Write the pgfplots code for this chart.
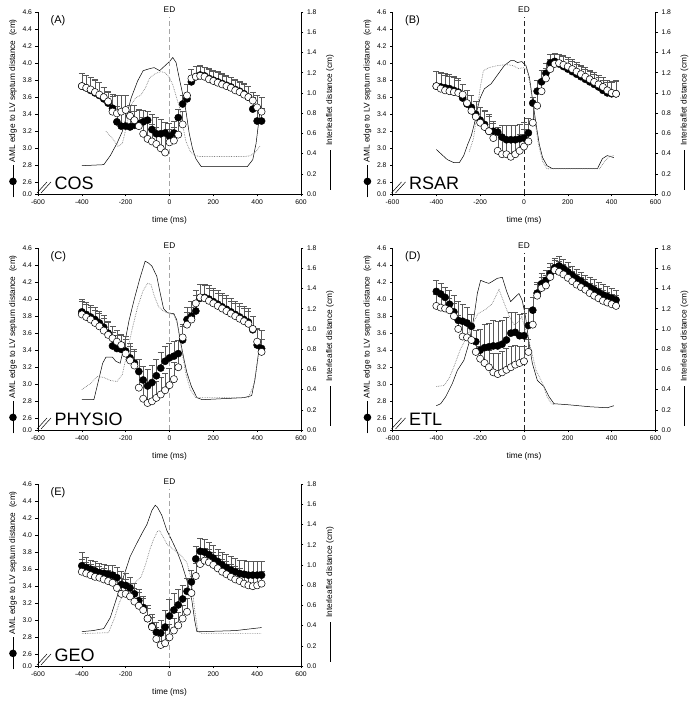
\documentclass[border=0pt]{standalone}
\usepackage{fontspec}
\setmainfont{Liberation Sans}
\usepackage{pgfplots}
\usepackage{pgfplotstable}
\pgfplotsset{compat=1.18}

% circles: t, filled (f) with +SD, open (o) with +SD
\pgfplotstableread{
t f ef o eo
-400 3.73 0.15 3.73 0.15
-380 3.71 0.15 3.71 0.15
-360 3.68 0.16 3.69 0.15
-340 3.65 0.15 3.66 0.15
-320 3.62 0.15 3.63 0.15
-300 3.58 0.14 3.60 0.12
-280 3.53 0.13 3.55 0.12
-260 3.47 0.16 3.43 0.18
-240 3.31 0.18 3.41 0.21
-220 3.26 0.18 3.43 0.19
-200 3.26 0.17 3.45 0.17
-180 3.25 0.18 3.38 0.12
-160 3.27 0.16 3.33 0.17
-140 3.29 0.16 3.26 0.20
-120 3.31 0.14 3.17 0.20
-100 3.33 0.10 3.11 0.20
-80 3.22 0.18 3.08 0.20
-60 3.17 0.20 3.05 0.20
-40 3.17 0.17 3.00 0.20
-20 3.18 0.13 2.95 0.20
0 3.14 0.15 3.07 0.15
20 3.18 0.14 3.09 0.16
40 3.36 0.10 3.16 0.18
60 3.52 0.10 3.28 0.15
80 3.58 0.17 3.62 0.13
100 3.78 0.15 3.82 0.11
120 3.84 0.12 3.84 0.12
140 3.86 0.11 3.85 0.11
160 3.85 0.10 3.84 0.11
180 3.82 0.12 3.81 0.12
200 3.80 0.12 3.79 0.12
220 3.78 0.12 3.77 0.12
240 3.76 0.12 3.75 0.12
260 3.74 0.12 3.73 0.12
280 3.72 0.12 3.71 0.12
300 3.69 0.12 3.68 0.12
320 3.67 0.12 3.66 0.12
340 3.64 0.12 3.63 0.12
360 3.60 0.13 3.60 0.13
380 3.46 0.14 3.56 0.10
400 3.32 0.15 3.48 0.14
420 3.32 0.15 3.43 0.17
}\cosdata
\pgfplotstableread{
t r
-400 0.28
-300 0.29
-270 0.38
-240 0.50
-215 0.62
-195 0.78
-175 0.95
-145 1.12
-120 1.22
-90 1.24
-70 1.25
-45 1.22
-25 1.26
0 1.31
15 1.35
30 1.30
45 1.14
60 0.99
75 0.82
90 0.60
105 0.45
120 0.35
145 0.27
355 0.27
380 0.34
395 0.50
412 0.80
}\cossolid
\pgfplotstableread{
t r
-290 0.62
-260 0.55
-235 0.47
-215 0.50
-195 0.68
-175 0.88
-155 0.95
-130 0.98
-110 1.05
-90 1.15
-65 1.19
-40 1.21
-20 1.20
0 1.15
15 1.08
30 0.97
45 0.86
60 0.68
75 0.52
95 0.42
115 0.38
140 0.37
345 0.37
370 0.38
395 0.42
415 0.48
}\cosdot

\pgfplotstableread{
t f ef o eo
-400 3.73 0.17 3.73 0.17
-380 3.72 0.17 3.70 0.18
-360 3.71 0.17 3.68 0.18
-340 3.70 0.17 3.67 0.18
-320 3.68 0.17 3.66 0.17
-300 3.66 0.16 3.65 0.15
-280 3.59 0.16 3.63 0.12
-260 3.52 0.16 3.53 0.15
-240 3.48 0.14 3.44 0.18
-220 3.40 0.15 3.37 0.18
-200 3.33 0.15 3.30 0.18
-180 3.28 0.17 3.25 0.18
-160 3.20 0.20 3.20 0.18
-140 3.20 0.12 3.12 0.18
-120 3.19 0.06 2.97 0.20
-100 3.13 0.14 2.93 0.20
-80 3.10 0.17 2.93 0.20
-60 3.10 0.17 2.90 0.20
-40 3.10 0.17 2.93 0.20
-20 3.11 0.17 2.97 0.20
0 3.12 0.19 3.02 0.20
20 3.18 0.17 3.08 0.20
40 3.53 0.07 3.30 0.20
60 3.67 0.13 3.50 0.16
80 3.78 0.14 3.67 0.14
100 3.88 0.12 3.82 0.12
120 4.00 0.10 3.93 0.12
140 4.02 0.10 3.99 0.12
160 3.99 0.12 4.00 0.11
180 3.96 0.12 3.98 0.11
200 3.93 0.12 3.96 0.11
220 3.90 0.12 3.93 0.11
240 3.87 0.12 3.90 0.11
260 3.84 0.12 3.87 0.11
280 3.81 0.12 3.84 0.11
300 3.78 0.12 3.81 0.11
320 3.75 0.12 3.78 0.11
340 3.72 0.12 3.75 0.11
360 3.68 0.12 3.72 0.12
380 3.65 0.12 3.68 0.12
400 3.64 0.14 3.65 0.14
420 3.64 0.15 3.64 0.16
}\rsardata
\pgfplotstableread{
t r
-400 0.44
-380 0.40
-350 0.34
-320 0.31
-295 0.31
-275 0.38
-257 0.49
-240 0.58
-227 0.69
-212 0.85
-200 0.95
-181 1.04
-150 1.09
-120 1.18
-90 1.27
-60 1.32
-45 1.32
-30 1.30
-10 1.31
9 1.27
25 1.15
40 0.92
55 0.69
70 0.49
85 0.36
105 0.28
130 0.25
335 0.25
358 0.35
380 0.38
410 0.36
}\rsarsolid
\pgfplotstableread{
t r
-250 0.42
-230 0.55
-215 0.80
-200 1.05
-185 1.22
-160 1.25
-120 1.27
-80 1.28
-50 1.27
-25 1.24
0 1.25
15 1.22
30 1.05
48 0.75
65 0.50
85 0.32
105 0.25
345 0.25
370 0.33
390 0.37
410 0.38
}\rsardot

\pgfplotstableread{
t f ef o eo
-400 3.85 0.15 3.82 0.15
-380 3.82 0.14 3.79 0.15
-360 3.79 0.14 3.76 0.15
-340 3.76 0.14 3.72 0.15
-320 3.72 0.14 3.68 0.15
-300 3.67 0.14 3.63 0.15
-280 3.60 0.14 3.58 0.15
-260 3.45 0.16 3.54 0.14
-240 3.42 0.16 3.50 0.13
-220 3.41 0.17 3.46 0.13
-200 3.39 0.17 3.36 0.17
-180 3.31 0.17 3.28 0.17
-160 3.25 0.16 3.22 0.17
-140 3.15 0.15 2.96 0.20
-120 3.05 0.16 2.83 0.20
-100 2.98 0.20 2.78 0.20
-80 3.02 0.20 2.80 0.20
-60 3.10 0.20 2.84 0.20
-40 3.19 0.19 2.88 0.20
-20 3.27 0.18 2.93 0.20
0 3.31 0.17 2.99 0.20
20 3.33 0.17 3.06 0.20
40 3.36 0.16 3.20 0.18
60 3.52 0.16 3.55 0.15
80 3.76 0.14 3.70 0.15
100 3.80 0.17 3.76 0.15
120 3.86 0.18 3.95 0.15
140 4.01 0.17 4.02 0.15
160 4.02 0.16 4.01 0.15
180 4.00 0.16 3.98 0.15
200 3.97 0.16 3.95 0.15
220 3.94 0.16 3.92 0.15
240 3.91 0.16 3.89 0.15
260 3.88 0.16 3.86 0.15
280 3.85 0.16 3.83 0.15
300 3.82 0.16 3.80 0.15
320 3.79 0.16 3.77 0.15
340 3.76 0.16 3.74 0.15
360 3.73 0.16 3.71 0.15
380 3.64 0.16 3.65 0.15
400 3.46 0.20 3.50 0.15
420 3.42 0.22 3.38 0.15
}\physdata
\pgfplotstableread{
t r
-400 0.30
-345 0.30
-325 0.48
-305 0.66
-290 0.72
-260 0.72
-245 0.68
-225 0.66
-205 0.85
-185 1.08
-160 1.30
-135 1.50
-111 1.67
-95 1.65
-80 1.62
-58 1.52
-45 1.38
-27 1.20
-10 1.16
20 1.15
33 1.09
49 0.89
64 0.72
79 0.57
100 0.43
125 0.32
150 0.30
340 0.32
375 0.34
390 0.50
406 0.76
}\physsolid
\pgfplotstableread{
t r
-400 0.40
-360 0.46
-330 0.53
-300 0.52
-270 0.49
-240 0.48
-215 0.55
-195 0.75
-170 1.00
-145 1.22
-120 1.38
-100 1.45
-85 1.44
-70 1.33
-50 1.22
-30 1.18
-10 1.16
20 1.14
35 1.06
55 0.80
75 0.55
95 0.40
120 0.32
360 0.32
385 0.45
405 0.72
}\physdot

\pgfplotstableread{
t f ef o eo
-400 4.09 0.13 3.92 0.14
-380 4.06 0.13 3.90 0.14
-360 4.02 0.12 3.89 0.14
-340 3.94 0.16 3.87 0.14
-320 3.85 0.20 3.80 0.15
-300 3.75 0.22 3.65 0.16
-280 3.74 0.20 3.56 0.18
-260 3.72 0.18 3.55 0.17
-240 3.68 0.14 3.52 0.15
-220 3.50 0.14 3.38 0.15
-200 3.40 0.25 3.30 0.15
-180 3.43 0.27 3.25 0.18
-160 3.44 0.28 3.20 0.20
-140 3.45 0.30 3.14 0.22
-120 3.45 0.29 3.12 0.25
-100 3.47 0.28 3.14 0.25
-80 3.52 0.27 3.17 0.25
-60 3.60 0.25 3.20 0.25
-40 3.61 0.24 3.23 0.23
-20 3.57 0.25 3.25 0.20
0 3.57 0.26 3.27 0.18
20 3.69 0.20 3.38 0.15
40 3.87 0.15 3.70 0.15
60 4.07 0.13 4.04 0.14
80 4.18 0.12 4.13 0.13
100 4.22 0.12 4.16 0.12
120 4.30 0.12 4.26 0.12
140 4.37 0.11 4.34 0.12
160 4.39 0.11 4.32 0.12
180 4.36 0.11 4.29 0.12
200 4.32 0.11 4.25 0.12
220 4.28 0.11 4.21 0.12
240 4.24 0.11 4.17 0.12
260 4.21 0.11 4.14 0.12
280 4.17 0.11 4.11 0.12
300 4.14 0.12 4.07 0.12
320 4.11 0.12 4.04 0.12
340 4.08 0.12 4.01 0.12
360 4.05 0.12 3.98 0.12
380 4.03 0.12 3.96 0.12
400 4.01 0.12 3.94 0.12
420 3.99 0.12 3.92 0.12
}\etldata
\pgfplotstableread{
t r
-400 0.24
-380 0.26
-357 0.33
-327 0.46
-304 0.59
-274 0.69
-251 0.86
-228 1.12
-213 1.35
-198 1.48
-175 1.46
-160 1.45
-144 1.47
-122 1.50
-99 1.51
-79 1.37
-61 1.27
-38 1.32
-23 1.35
-8 1.28
7 1.12
23 0.86
38 0.66
61 0.49
91 0.43
114 0.33
137 0.26
200 0.25
300 0.23
380 0.22
410 0.24
}\etlsolid
\pgfplotstableread{
t r
-400 0.43
-364 0.44
-340 0.52
-319 0.63
-290 0.80
-260 0.92
-240 1.02
-210 1.15
-170 1.20
-145 1.25
-114 1.39
-95 1.28
-66 1.12
-45 1.04
-25 1.07
-10 1.12
5 1.00
25 0.86
55 0.59
85 0.46
105 0.33
125 0.26
140 0.25
}\etldot

\pgfplotstableread{
t f ef o eo
-400 3.64 0.16 3.57 0.15
-380 3.62 0.12 3.55 0.13
-360 3.60 0.11 3.53 0.13
-340 3.58 0.11 3.51 0.13
-320 3.56 0.11 3.50 0.13
-300 3.55 0.11 3.48 0.13
-280 3.54 0.11 3.46 0.13
-260 3.53 0.12 3.44 0.13
-240 3.50 0.12 3.38 0.15
-220 3.42 0.16 3.31 0.18
-200 3.41 0.14 3.31 0.17
-180 3.38 0.12 3.28 0.15
-160 3.31 0.13 3.22 0.16
-140 3.23 0.13 3.17 0.16
-120 3.15 0.13 3.12 0.14
-100 3.02 0.16 3.02 0.12
-80 2.93 0.14 2.92 0.12
-60 2.86 0.12 2.78 0.14
-40 2.85 0.15 2.71 0.15
-20 2.92 0.20 2.73 0.15
0 3.05 0.20 2.80 0.15
20 3.12 0.20 2.88 0.15
40 3.18 0.18 2.94 0.16
60 3.25 0.16 3.02 0.16
80 3.34 0.15 3.10 0.16
100 3.45 0.14 3.32 0.15
120 3.72 0.15 3.52 0.15
140 3.81 0.15 3.66 0.15
160 3.80 0.15 3.70 0.15
180 3.77 0.15 3.68 0.15
200 3.73 0.15 3.65 0.15
220 3.69 0.15 3.61 0.15
240 3.65 0.15 3.57 0.15
260 3.62 0.15 3.54 0.15
280 3.59 0.16 3.51 0.15
300 3.57 0.16 3.48 0.15
320 3.55 0.16 3.46 0.15
340 3.54 0.16 3.43 0.15
360 3.53 0.16 3.41 0.15
380 3.53 0.16 3.40 0.15
400 3.53 0.16 3.41 0.15
420 3.53 0.16 3.43 0.15
}\geodata
\pgfplotstableread{
t r
-400 0.34
-350 0.35
-300 0.37
-270 0.48
-240 0.68
-210 0.88
-180 1.08
-150 1.21
-126 1.31
-103 1.40
-80 1.54
-65 1.59
-55 1.57
-35 1.49
-12 1.34
11 1.24
33 1.14
56 1.01
79 0.85
102 0.65
115 0.45
125 0.34
150 0.34
300 0.35
420 0.38
}\geosolid
\pgfplotstableread{
t r
-400 0.32
-278 0.33
-250 0.48
-230 0.62
-210 0.72
-185 0.78
-160 0.82
-130 0.88
-110 1.00
-90 1.15
-73 1.25
-55 1.33
-45 1.34
-30 1.28
-10 1.20
20 1.15
50 1.10
80 1.02
100 0.85
115 0.55
130 0.34
150 0.32
420 0.32
}\geodot

\pgfplotsset{
  panelbase/.style={
    scale only axis, width=263pt, height=182pt, anchor=south west,
    xmin=-600, xmax=600,
    tick align=outside, major tick length=2.5pt,
    tick style={black, line width=0.4pt},
    axis line style={line width=0.5pt},
    tick label style={font=\fontsize{6.8}{8}\selectfont},
    label style={font=\fontsize{8.3}{10}\selectfont},
    /pgf/number format/assume math mode=true,
  },
  rightax/.style={
    panelbase, axis x line=none, axis y line*=right,
    ymin=0, ymax=1.8, ytick={0,0.2,...,1.8},
    yticklabel style={/pgf/number format/.cd, fixed, fixed zerofill, precision=1},
    ylabel={\tikz[baseline=-0.5ex]\draw[line width=0.6pt] (0,0)--(40pt,0);\hspace{4pt}Interleaflet distance (cm)},
    ylabel style={at={(rel axis cs:1.11,0.393)}, anchor=center},
  },
  leftax/.style={
    panelbase, axis x line*=bottom, axis y line*=left, clip=false,
    ymin=2.463, ymax=4.6, ytick={2.6,2.8,...,4.6},
    extra y ticks={2.463}, extra y tick labels={0.0}, extra y tick style={grid=none},
    xtick={-600,-400,...,600},
    yticklabel style={/pgf/number format/.cd, fixed, fixed zerofill, precision=1},
    xlabel={time (ms)},
    xlabel style={at={(rel axis cs:0.5,-0.143)}, anchor=center},
    ylabel={\tikz[baseline=-0.5ex]{\draw[line width=0.6pt] (0,0)--(32pt,0); \fill (16pt,0) circle (3.8pt);}\hspace{3pt}AML edge to LV septum distance\ \ (cm)},
    ylabel style={at={(rel axis cs:-0.095,0.47)}, anchor=center},
  },
  errbars/.style={draw=none, mark=none, forget plot,
    error bars/.cd, y dir=plus, y explicit, error mark=-,
    error bar style={draw=black!65, line width=0.4pt},
    error mark options={rotate=90, draw=black!65, line width=0.4pt, mark size=3pt}},
}

% #1,#2 position, #3 circles, #4 solid, #5 dotted, #6 letter, #7 group, #8 colour of ED line
\newcommand{\panel}[8]{%
  \begin{axis}[rightax, at={(#1,#2)}]
    \addplot[black, line width=0.5pt] table {#4};
    \addplot[gray, densely dotted, line width=0.7pt] table {#5};
  \end{axis}
  \begin{axis}[leftax, at={(#1,#2)}]
    \draw[#8, line width=0.5pt, dash pattern=on 5pt off 3pt] (rel axis cs:0.5,0) -- (rel axis cs:0.5,0.972);
    \node[font=\fontsize{8.3}{10}\selectfont] at ([yshift=2pt]rel axis cs:0.5,1) {ED};
    \addplot[errbars] table[x=t, y=f, y error=ef] {#3};
    \addplot[errbars] table[x=t, y=o, y error=eo] {#3};
    \addplot[only marks, mark=*, mark size=3.6pt, mark options={draw=black, fill=black}] table[x=t, y=f] {#3};
    \addplot[only marks, mark=*, mark size=3.6pt, mark options={draw=black, fill=white, line width=0.5pt}] table[x=t, y=o] {#3};
    \node[anchor=north west, font=\fontsize{11}{13}\selectfont] at (rel axis cs:0.035,1) {(#6)};
    \node[anchor=base west, font=\fontsize{18}{20}\selectfont] at (rel axis cs:0.05,0.027) {#7};
    \draw[line width=0.5pt] ([xshift=-1pt, yshift=1pt]rel axis cs:0,0) -- ++(10pt,11pt);
    \draw[line width=0.5pt] ([xshift=3pt, yshift=1pt]rel axis cs:0,0) -- ++(10pt,11pt);
  \end{axis}}

\begin{document}
\begin{tikzpicture}
\useasboundingbox (0,0) rectangle (690pt,702pt);
\panel{38pt}{508pt}{\cosdata}{\cossolid}{\cosdot}{A}{COS}{gray!70}
\panel{392.5pt}{508pt}{\rsardata}{\rsarsolid}{\rsardot}{B}{RSAR}{black!85}
\panel{38pt}{272pt}{\physdata}{\physsolid}{\physdot}{C}{PHYSIO}{gray!70}
\panel{392.5pt}{272pt}{\etldata}{\etlsolid}{\etldot}{D}{ETL}{black!85}
\panel{38pt}{36pt}{\geodata}{\geosolid}{\geodot}{E}{GEO}{gray!70}
\end{tikzpicture}
\end{document}
